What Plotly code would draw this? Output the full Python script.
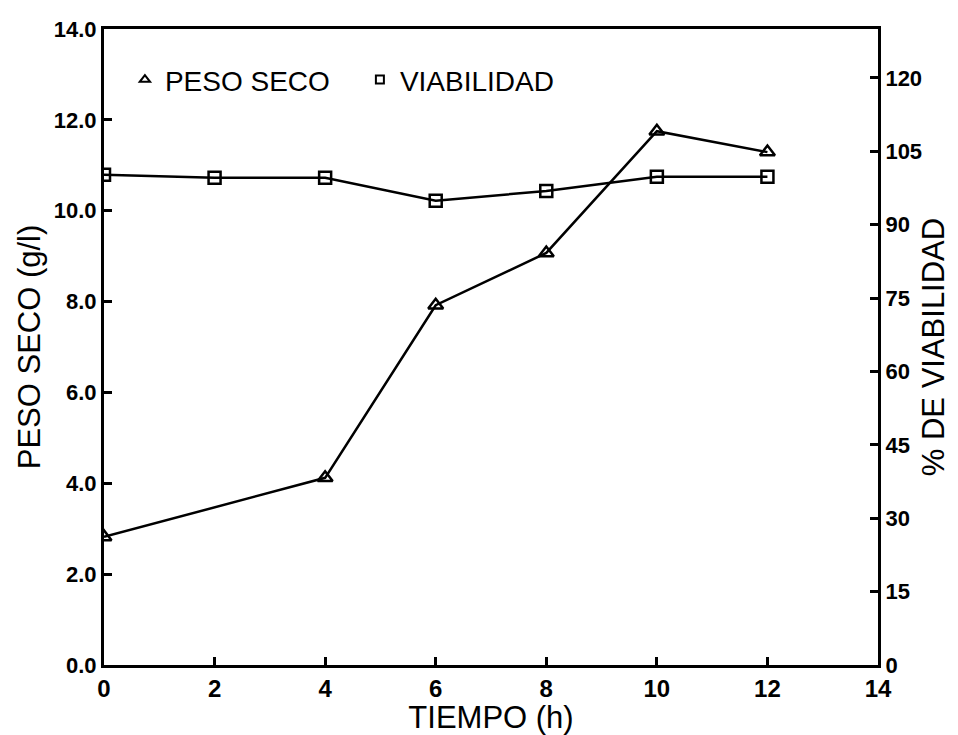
import plotly.graph_objects as go

tiempo = [0, 2, 4, 6, 8, 10, 12]
tiempo_peso = [0, 4, 6, 8, 10, 12]
peso_seco = [2.82, 4.12, 7.92, 9.07, 11.75, 11.29]
viabilidad = [100.2, 99.6, 99.6, 94.9, 96.9, 99.8, 99.8]

x_ticks = [0, 2, 4, 6, 8, 10, 12, 14]
y_ticks = [0, 2, 4, 6, 8, 10, 12, 14]
y2_ticks = [0, 15, 30, 45, 60, 75, 90, 105, 120]

FONT = "Liberation Sans, Arial, sans-serif"

fig = go.Figure()

fig.add_trace(go.Scatter(
    x=tiempo_peso, y=peso_seco, mode="lines+markers", showlegend=False,
    line=dict(color="black", width=2.5),
    marker=dict(symbol="triangle-up-open", size=13, color="black", line=dict(width=2.5, color="black")),
))
fig.add_trace(go.Scatter(
    x=tiempo, y=viabilidad, mode="lines+markers", yaxis="y2", showlegend=False,
    line=dict(color="black", width=2.5),
    marker=dict(symbol="square-open", size=12, color="black", line=dict(width=2.5, color="black")),
))
# legend entries (markers only)
fig.add_trace(go.Scatter(
    x=[None], y=[None], mode="markers", name="PESO SECO",
    marker=dict(symbol="triangle-up-open", size=9, color="black", line=dict(width=2, color="black")),
))
fig.add_trace(go.Scatter(
    x=[None], y=[None], mode="markers", name="VIABILIDAD",
    marker=dict(symbol="square-open", size=8, color="black", line=dict(width=2, color="black")),
))

axis_common = dict(
    showline=True, linecolor="black", linewidth=3,
    ticks="inside", ticklen=8, tickwidth=2.5, tickcolor="black",
    showgrid=False, zeroline=False,
)

fig.update_layout(
    width=958, height=735,
    margin=dict(l=104, r=71, t=29, b=70),
    paper_bgcolor="white", plot_bgcolor="white",
    font=dict(family=FONT, color="black"),
    xaxis=dict(
        range=[0, 14], tickvals=x_ticks, ticktext=[str(v) for v in x_ticks],
        mirror=True,
        tickfont=dict(family=FONT, size=24, color="black", weight="bold"),
        title=dict(text="TIEMPO (h)", font=dict(family=FONT, size=31, color="black"), standoff=0),
        **axis_common,
    ),
    yaxis=dict(
        range=[0, 14], tickvals=y_ticks, ticktext=[f"{v:.1f}" for v in y_ticks],
        tickfont=dict(family=FONT, size=22, color="black", weight="bold"),
        title=dict(text="PESO SECO (g/l)", font=dict(family=FONT, size=31, color="black"), standoff=4),
        **axis_common,
    ),
    yaxis2=dict(
        range=[0, 130], tickvals=y2_ticks, ticktext=[str(v) for v in y2_ticks],
        overlaying="y", side="right",
        tickfont=dict(family=FONT, size=22, color="black", weight="bold"),
        title=dict(text="% DE VIABILIDAD", font=dict(family=FONT, size=31, color="black"), standoff=2),
        **axis_common,
    ),
    legend=dict(
        orientation="h", x=0.027, y=0.92, xanchor="left", yanchor="middle",
        font=dict(family=FONT, size=28, color="black"),
        bgcolor="rgba(0,0,0,0)", itemwidth=30,
        entrywidth=190, entrywidthmode="pixels",
    ),
)

fig.write_html("out.html")
